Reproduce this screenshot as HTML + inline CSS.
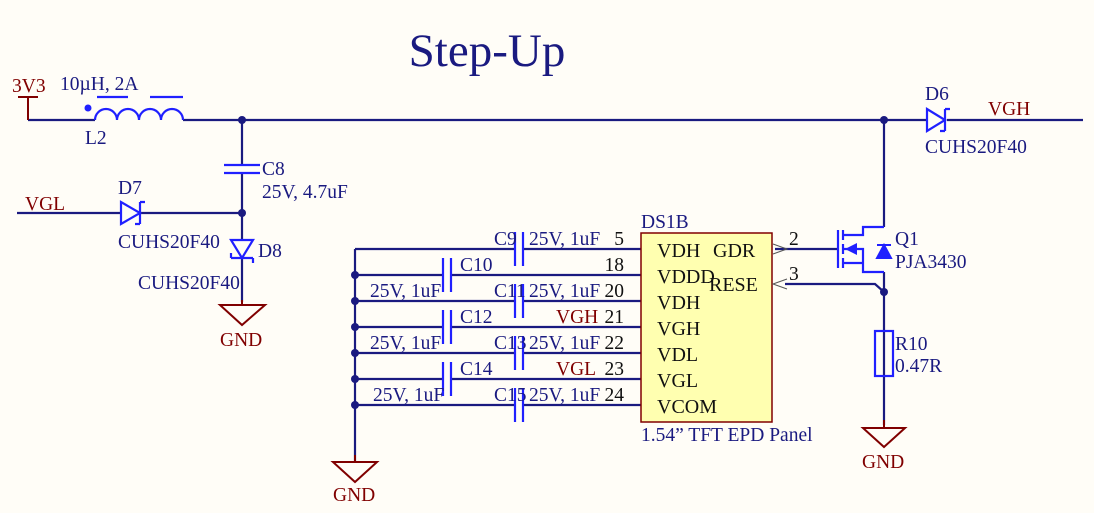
<!DOCTYPE html>
<html><head><style>html,body{margin:0;padding:0;background:#fffdf7}</style></head><body>
<svg width="1094" height="508" viewBox="0 0 1094 508" xmlns="http://www.w3.org/2000/svg" font-family="Liberation Serif, serif" font-size="19.5">
<rect width="1094" height="508" fill="#fffdf7"/>
<text x="487" y="66" font-size="47" fill="#1a1a80" text-anchor="middle">Step-Up</text>
<g stroke="#1a1a80" stroke-width="2.2" fill="none">
<path d="M28 120H95M183 120H927M947 120H1083"/>
<path d="M242 120V165M242 173V240M242 258V302"/>
<path d="M17 213H120M140 213H242"/>
<path d="M884 120V227M884 272V425"/>
<path d="M775 249H838"/>
<path d="M785 284H875L884 292"/>
<path d="M355 249V462"/>
<path d="M355 249H515M523 249H641M355 275H443M451 275H641M355 301H515M523 301H641M355 327H443M451 327H641M355 353H515M523 353H641M355 379H443M451 379H641M355 405H515M523 405H641"/>
</g>
<g fill="#1a1a80">
<circle cx="242" cy="120" r="4"/><circle cx="242" cy="213" r="4"/><circle cx="884" cy="120" r="4"/><circle cx="884" cy="292" r="4"/>
<circle cx="355" cy="275" r="4"/><circle cx="355" cy="301" r="4"/><circle cx="355" cy="327" r="4"/><circle cx="355" cy="353" r="4"/><circle cx="355" cy="379" r="4"/><circle cx="355" cy="405" r="4"/>
</g>
<g stroke="#800000" stroke-width="2" fill="none">
<path d="M18 97H38M28 97V120"/>
<path d="M242 300V305M220 305H265L242 325Z"/>
<path d="M884 420V428M863 428H905L884 447Z"/>
<path d="M355 455V462M333 462H377L355 482Z"/>
</g>
<g stroke="#2020ff" stroke-width="2.2" fill="none">
<path d="M95 120a11 11 0 0 1 22 0a11 11 0 0 1 22 0a11 11 0 0 1 22 0a11 11 0 0 1 22 0"/>
<path d="M97 97H128M150 97H183"/>
<path d="M224 165H260M224 173H260"/>
<path d="M121 202V224L140 213Z M140 202V224M140 202h5M140 224h-5" />
<path d="M231 240H253L242 258Z M231 258H253M231 258v-5M253 258v5"/>
<path d="M927 109V131L945 120Z M945 109V131M945 109h5M945 131h-5"/>
<rect x="875" y="331" width="18" height="45"/>
<path d="M838 230V268M843 230V240M843 244V254M843 258V268M843 235H863V227H884M843 263H863V272H884M843 249H863V263"/>
<path d="M515 232V266M523 232V266M515 284V318M523 284V318M515 336V370M523 336V370M515 388V422M523 388V422"/>
<path d="M443 258V292M451 258V292M443 310V344M451 310V344M443 362V396M451 362V396"/>
</g>
<g fill="#2020ff">
<circle cx="88" cy="108" r="3.5"/>
<path d="M845 249L857 243V255Z"/>
<path d="M877 258H891L884 245Z M877 245H891" stroke="#2020ff" stroke-width="2"/>
</g>
<rect x="641" y="233" width="131" height="189" fill="#ffffb0" stroke="#800000" stroke-width="1.5"/>
<path d="M773 244L787 249L773 254" fill="none" stroke="#555" stroke-width="1"/>
<path d="M787 279L773 284L787 289" fill="none" stroke="#555" stroke-width="1"/>
<g fill="#800000">
<text x="12" y="92">3V3</text><text x="220" y="346">GND</text><text x="862" y="468">GND</text><text x="333" y="501">GND</text>
<text x="25" y="210">VGL</text><text x="988" y="115">VGH</text><text x="556" y="323">VGH</text><text x="556" y="375">VGL</text>
</g>
<g fill="#1a1a80">
<text x="60" y="90">10µH, 2A</text><text x="85" y="144">L2</text>
<text x="262" y="175">C8</text><text x="262" y="198">25V, 4.7uF</text>
<text x="118" y="194">D7</text><text x="118" y="248">CUHS20F40</text>
<text x="258" y="257">D8</text><text x="138" y="289">CUHS20F40</text>
<text x="925" y="100">D6</text><text x="925" y="153">CUHS20F40</text>
<text x="895" y="245">Q1</text><text x="895" y="268">PJA3430</text>
<text x="895" y="350">R10</text><text x="895" y="372">0.47R</text>
<text x="641" y="228">DS1B</text><text x="641" y="441">1.54” TFT EPD Panel</text>
<text x="494" y="245">C9</text><text x="529" y="245">25V, 1uF</text>
<text x="460" y="271">C10</text><text x="370" y="297">25V, 1uF</text>
<text x="494" y="297">C11</text><text x="529" y="297">25V, 1uF</text>
<text x="460" y="323">C12</text><text x="370" y="349">25V, 1uF</text>
<text x="494" y="349">C13</text><text x="529" y="349">25V, 1uF</text>
<text x="460" y="375">C14</text><text x="373" y="401">25V, 1uF</text>
<text x="494" y="401">C15</text><text x="529" y="401">25V, 1uF</text>
</g>
<g fill="#111" text-anchor="end">
<text x="624" y="245">5</text><text x="624" y="271">18</text><text x="624" y="297">20</text><text x="624" y="323">21</text><text x="624" y="349">22</text><text x="624" y="375">23</text><text x="624" y="401">24</text>
</g>
<g fill="#111"><text x="789" y="245">2</text><text x="789" y="280">3</text></g>
<g fill="#111" font-size="20">
<text x="657" y="257">VDH</text><text x="657" y="283">VDDD</text><text x="657" y="309">VDH</text><text x="657" y="335">VGH</text><text x="657" y="361">VDL</text><text x="657" y="387">VGL</text><text x="657" y="413">VCOM</text>
<text x="713" y="257">GDR</text><text x="709" y="291">RESE</text>
</g>
</svg>
</body></html>
